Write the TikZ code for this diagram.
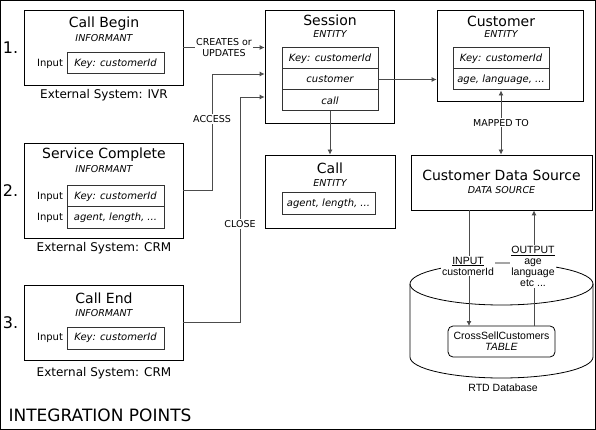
\documentclass[tikz,border=0pt]{standalone}
\usepackage{fontspec}
\setmainfont{DejaVu Sans}
\newfontfamily\dbfont{Liberation Sans}
\usetikzlibrary{arrows.meta}

\begin{document}
\begin{tikzpicture}[x=1pt,y=-1pt,
	box/.style={draw=black,line width=0.8pt,inner sep=0pt},
	field/.style={draw=black!80,line width=1pt,inner sep=0pt,minimum height=21pt,font=\fontsize{10}{12}\selectfont\itshape},
	title/.style={font=\fontsize{14}{16}\selectfont},
	kind/.style={font=\fontsize{9.5}{11}\selectfont\itshape},
	small/.style={font=\fontsize{10}{12}\selectfont},
	ext/.style={font=\fontsize{12}{14}\selectfont},
	num/.style={font=\fontsize{16}{18}\selectfont},
	tag/.style={fill=white,inner sep=1pt,align=center,font=\fontsize{9.5}{10.5}\selectfont},
	dbtext/.style={inner sep=1pt,align=center,font=\dbfont\fontsize{10.5}{11}\selectfont},
	conn/.style={draw=black!70,line width=0.8pt,-{Latex[length=5pt,width=5pt]}}]
	\useasboundingbox (0,0) rectangle (596,430);
	\draw[line width=0.8pt] (0.5,0.5) rectangle (595.5,429.5);	%frame

	%informants
	\node[box,minimum width=158.5pt,minimum height=75pt] (begin) at (103.75,47.5) {};
	\node[title] (begintitle) at (104,24) {Call Begin};
	\node[kind] (beginkind) at (104,38) {INFORMANT};
	\node[field,minimum width=97pt] (beginkey) at (115.5,63.5) {Key: customerId};
	\node[small] (beginin) at (50,63.5) {Input};
	\node[ext] (beginext) at (104,95) {External System: IVR};

	\node[box,minimum width=158.5pt,minimum height=95pt] (service) at (103.75,190.5) {};
	\node[title] (servicetitle) at (104,155) {Service Complete};
	\node[kind] (servicekind) at (104,169) {INFORMANT};
	\node[field,minimum width=97pt] (servicekey) at (115.5,196.5) {Key: customerId};
	\node[field,minimum width=97pt] (serviceattr) at (115.5,217.5) {agent, length, ...};
	\foreach \y in {196.5,217.5}
		\node[small] at (50,\y) {Input};
	\node[ext] (serviceext) at (104,248) {External System: CRM};

	\node[box,minimum width=158.5pt,minimum height=75pt] (end) at (103.75,322.5) {};
	\node[title] (endtitle) at (104,298) {Call End};
	\node[kind] (endkind) at (104,313) {INFORMANT};
	\node[field,minimum width=97pt,minimum height=22pt] (endkey) at (115.5,338) {Key: customerId};
	\node[small] (endin) at (50,338) {Input};
	\node[ext] (endext) at (104,373) {External System: CRM};

	\foreach \n/\y in {1/48,2/191,3/323}
		\node[num] (num\n) at (10.5,\y) {\n.};

	\node[font=\fontsize{17}{20}\selectfont,anchor=west] (points) at (5,415) {INTEGRATION POINTS};

	%entities
	\node[box,minimum width=129pt,minimum height=113pt] (session) at (329.5,66.5) {};
	\node[title] (sessiontitle) at (330,20) {Session};
	\node[kind] (sessionkind) at (330,34) {ENTITY};
	\node[field,minimum width=96pt] (skey) at (330,58.5) {Key: customerId};
	\node[field,minimum width=96pt] (scust) at (330,79.5) {customer};
	\node[field,minimum width=96pt] (scall) at (330,100.5) {call};

	\node[box,minimum width=146pt,minimum height=91pt] (customer) at (510,55.5) {};
	\node[title] (customertitle) at (501,21) {Customer};
	\node[kind] (customerkind) at (501,34) {ENTITY};
	\node[field,minimum width=96pt] (ckey) at (501,58.5) {Key: customerId};
	\node[field,minimum width=96pt] (cattr) at (501,79.5) {age, language, ...};

	\node[box,minimum width=130pt,minimum height=73pt] (call) at (330,191.5) {};
	\node[title] (calltitle) at (330,168) {Call};
	\node[kind] (callkind) at (330,183) {ENTITY};
	\node[field,minimum width=93pt,minimum height=22pt] (callattr) at (328.5,204) {agent, length, ...};

	\node[box,minimum width=181pt,minimum height=55pt] (cds) at (501.5,182.5) {};
	\node[title] (cdstitle) at (501.5,175) {Customer Data Source};
	\node[kind] (cdskind) at (501.5,190) {DATA SOURCE};

	%database
	\draw[line width=0.8pt] (410,284) -- (410,357) arc[start angle=180,end angle=360,x radius=91.5pt,y radius=21pt] -- (593,284);
	\draw[line width=0.8pt] (501.5,284) ellipse[x radius=91.5pt,y radius=21pt];
	\node[draw,line width=0.8pt,rounded corners=5pt,minimum width=107pt,minimum height=31pt,dbtext] (table) at (501.5,341.5) {CrossSellCustomers\\\textit{TABLE}};
	\node[dbtext] (rtd) at (503,388) {RTD Database};
	\coordinate (dbin) at (469,326);
	\coordinate (dbout) at (534,326);

	%connectors
	\draw[conn] (begin.east) -- (begin.east -| session.west) node[midway,tag] {CREATES or\\UPDATES};
	\coordinate (access) at (212,74);
	\draw[conn] (service.east) -| (access) -- (access -| session.west);
	\node[tag] (accesslbl) at (212,119) {ACCESS};
	\coordinate (close) at (240,97);
	\draw[conn] (end.east) -| (close) -- (close -| session.west);
	\node[tag] (closelbl) at (240,224) {CLOSE};
	\draw[conn] (scust.east) -- (scust.east -| customer.west);
	\draw[conn] (scall.south) -- (call.north);
	\draw[conn,{Latex[length=5pt,width=5pt]}-{Latex[length=5pt,width=5pt]}] (cattr.south) -- (cattr.south |- cds.north) node[midway,tag] {MAPPED TO};
	\draw[conn] (dbin |- cds.south) -- (dbin);
	\draw[conn] (dbout) -- (dbout |- cds.south);
	\node[dbtext,fill=white] (inlbl) at (468,266) {\underline{INPUT}\\customerId};
	\node[dbtext,fill=white] (outlbl) at (533,266.5) {\underline{OUTPUT}\\age\\language\\etc ...};
\end{tikzpicture}
\end{document}
